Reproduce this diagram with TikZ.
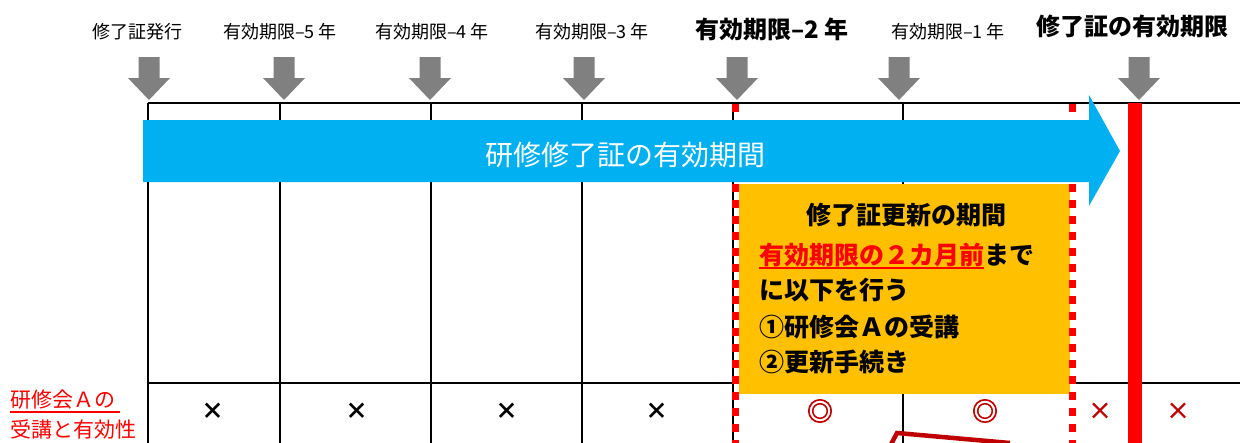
\documentclass[tikz,border=0pt]{standalone}
\usepackage{fontspec}
\setmainfont{Noto Sans CJK JP}
\newfontfamily\heavyfont[FakeBold=2.5]{Noto Sans CJK JP}
\definecolor{arrowgray}{HTML}{808080}
\definecolor{skyblue}{HTML}{00B0F0}
\definecolor{boxgold}{HTML}{FFC000}
\definecolor{darkred}{HTML}{C00000}
\tikzset{
  downarrow/.pic={\fill[arrowgray] (-10.5,57)--(10.5,57)--(10.5,78)--(21,78)--(0,100)--(-21,78)--(-10.5,78)--cycle;},
  lbl/.style={inner sep=0pt,font=\fontsize{18}{20}\selectfont},
  blbl/.style={inner sep=0pt,font=\fontsize{24}{26}\selectfont\bfseries},
  gridline/.style={line width=2pt,black},
  boxtxt/.style={inner sep=0pt,anchor=west,font=\fontsize{25}{28}\selectfont\bfseries},
  redlbl/.style={inner sep=0pt,anchor=west,text=red,font=\fontsize{21}{23}\selectfont},
  xmark/.style={inner sep=0pt,font=\fontsize{23}{25}\selectfont\bfseries},
  dxmark/.style={inner sep=0pt,text=darkred,font=\fontsize{23}{25}\selectfont\heavyfont},
  ring/.style={inner sep=0pt,text=darkred,font=\fontsize{26}{28}\selectfont\heavyfont},
}
\begin{document}
\begin{tikzpicture}[x=1pt,y=-1pt]
\useasboundingbox (0,0) rectangle (1240,442);
\clip (0,0) rectangle (1240,442);
% grid
\draw[gridline] (148,103) -- (1240,103);
\draw[gridline] (148,383) -- (1240,383);
\foreach \x in {148,280,431,582,733,903} \draw[gridline] (\x,103) -- (\x,450);
% yellow box
\fill[boxgold] (739,184) rectangle (1070,394);
% red dashed period
\draw[red,line width=7pt,dash pattern=on 8pt off 8pt] (735,104) -- (735,450);
\draw[red,line width=7pt,dash pattern=on 8pt off 8pt] (1072,104) -- (1072,450);
% blue arrow
\fill[skyblue] (143,120) -- (1089,120) -- (1089,95) -- (1120,151) -- (1089,206) -- (1089,182) -- (143,182) -- cycle;
\node[inner sep=0pt,text=white,font=\fontsize{28}{30}\selectfont] (period) at (625,155) {研修修了証の有効期間};
% red expiry line
\draw[red,line width=14pt] (1135,103) -- (1135,450);
% gray arrows
\foreach \x in {149,284,430,584,737,899,1139} \pic at (\x,0) {downarrow};
% top labels
\node[lbl] (l0) at (137,32) {修了証発行};
\node[lbl] (l5) at (280,32) {有効期限–5 年};
\node[lbl] (l4) at (432,32) {有効期限–4 年};
\node[lbl] (l3) at (592,32) {有効期限–3 年};
\node[blbl] (l2) at (772,29) {有効期限–2 年};
\node[lbl] (l1) at (948,32) {有効期限–1 年};
\node[blbl] (lx) at (1132,26) {修了証の有効期限};
% box text
\node[inner sep=0pt,font=\fontsize{25}{28}\selectfont\bfseries] (bt1) at (906,215) {修了証更新の期間};
\node[boxtxt,text=red] (bt2a) at (759,255) {有効期限の２カ月前};
\node[boxtxt] (bt2b) at (bt2a.east) {まで};
\draw[red,line width=2pt] ([yshift=-1pt]bt2a.south west) -- ([yshift=-1pt]bt2a.south east);
\node[boxtxt] (bt3) at (759,290) {に以下を行う};
\node[boxtxt] (bt4) at (759,327) {①研修会Ａの受講};
\node[boxtxt] (bt5) at (759,362) {②更新手続き};
% left label
\node[redlbl] (r1) at (10,400) {研修会Ａの};
\draw[red,line width=2pt] (10,412) -- (120,412);
\node[redlbl] (r2) at (10,430) {受講と有効性};
% marks
\node[xmark] (m1) at (213,411) {×};
\node[xmark] (m2) at (357,411) {×};
\node[xmark] (m3) at (507,411) {×};
\node[xmark] (m4) at (657,411) {×};
\node[ring] (m5) at (820,411) {◎};
\node[ring] (m6) at (985,411) {◎};
\node[dxmark] (m7) at (1100,411) {×};
\node[dxmark] (m8) at (1178,411) {×};
% callout edge at bottom
\draw[darkred,line width=4.5pt,line join=miter] (888,450) -- (897,433) -- (1010,443);
\end{tikzpicture}
\end{document}
